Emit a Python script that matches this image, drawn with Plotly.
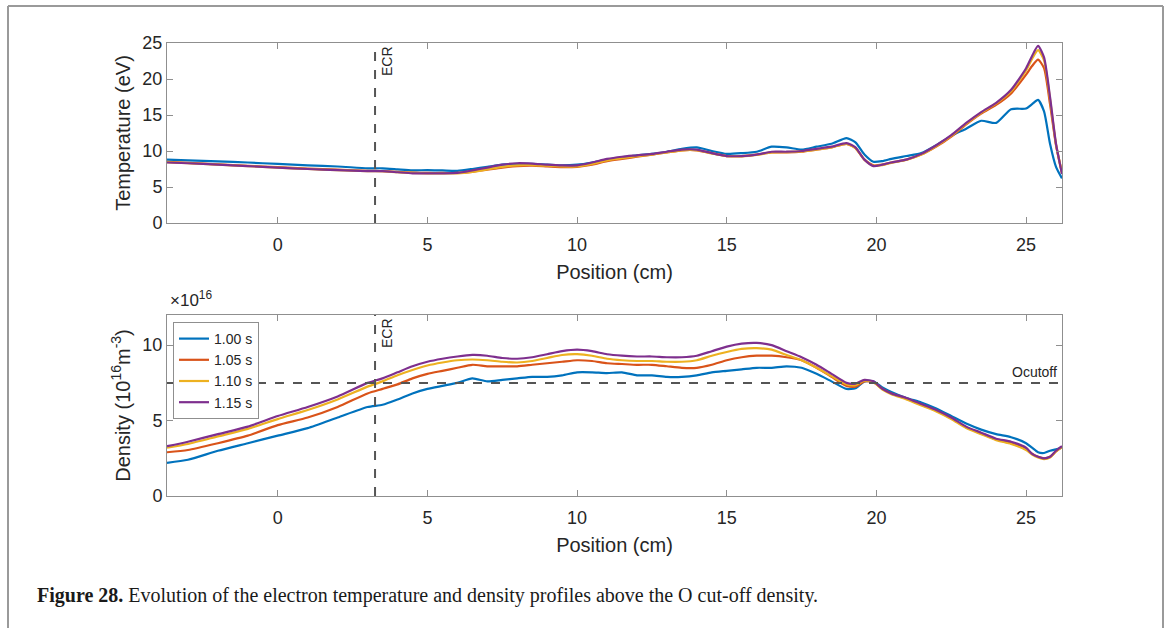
import plotly.graph_objects as go

# ---------------- data ----------------
position = [-3.7, -3.0, -2.0, -1.0, 0.0, 1.0, 2.0, 3.0, 3.5, 4.0, 4.5, 5.0, 5.5, 6.0, 6.5, 7.0, 7.5, 8.0, 8.5, 9.0,
            9.5, 10.0, 10.5, 11.0, 11.5, 12.0, 12.5, 13.0, 13.5, 14.0, 14.5, 15.0, 15.5, 16.0, 16.5, 17.0, 17.5, 18.0,
            18.5, 19.0, 19.3, 19.6, 19.9, 20.2, 20.5, 21.0, 21.5, 22.0, 22.5, 23.0, 23.5, 24.0, 24.5, 25.0, 25.2, 25.4,
            25.6, 25.8, 26.0, 26.2]

series_names = ["1.00 s", "1.05 s", "1.10 s", "1.15 s"]
series_colors = ["#0072BD", "#D95319", "#EDB120", "#7E2F8E"]

temp_100 = [8.8, 8.7, 8.55, 8.4, 8.2, 8.0, 7.85, 7.6, 7.6, 7.45, 7.3, 7.35, 7.3, 7.25, 7.5, 7.8, 8.1, 8.2, 8.2, 8.1,
            8.0, 8.1, 8.4, 8.8, 9.1, 9.4, 9.6, 9.9, 10.3, 10.5, 10.0, 9.6, 9.7, 9.9, 10.6, 10.5, 10.2, 10.6,
            11.0, 11.8, 11.2, 9.5, 8.5, 8.6, 8.9, 9.3, 9.7, 10.8, 12.1, 13.1, 14.2, 13.9, 15.8, 15.9, 16.5, 17.1,
            15.5, 11.0, 7.8, 6.2]
temp_105 = [8.5, 8.35, 8.15, 7.95, 7.75, 7.55, 7.4, 7.25, 7.2, 7.1, 7.0, 6.95, 6.95, 6.95, 7.1, 7.4, 7.7, 7.9, 7.95, 7.85,
            7.75, 7.8, 8.1, 8.6, 8.9, 9.2, 9.5, 9.8, 10.1, 10.1, 9.7, 9.3, 9.3, 9.5, 9.8, 9.8, 9.9, 10.2,
            10.5, 11.0, 10.4, 8.8, 8.0, 8.1, 8.4, 8.8, 9.5, 10.6, 12.0, 13.7, 15.2, 16.4, 18.0, 20.6, 21.8, 22.7,
            21.5, 16.5, 10.8, 7.0]
temp_110 = [8.45, 8.3, 8.1, 7.9, 7.7, 7.5, 7.35, 7.2, 7.2, 7.05, 6.95, 6.9, 6.9, 6.9, 7.1, 7.45, 7.8, 8.0, 8.05, 7.95,
            7.85, 7.85, 8.2, 8.7, 9.0, 9.3, 9.5, 9.8, 10.1, 10.1, 9.65, 9.3, 9.25, 9.45, 9.8, 9.85, 9.95, 10.2,
            10.5, 11.0, 10.4, 8.8, 7.95, 8.05, 8.35, 8.75, 9.5, 10.7, 12.1, 13.8, 15.3, 16.6, 18.3, 21.2, 22.8, 24.0,
            22.6, 17.2, 10.9, 6.9]
temp_115 = [8.4, 8.3, 8.1, 7.9, 7.7, 7.5, 7.35, 7.2, 7.2, 7.05, 6.9, 6.9, 6.9, 6.95, 7.3, 7.7, 8.1, 8.3, 8.25, 8.1,
            8.0, 8.0, 8.4, 8.9, 9.2, 9.4, 9.6, 9.9, 10.2, 10.2, 9.7, 9.3, 9.3, 9.5, 9.9, 9.9, 10.0, 10.3,
            10.6, 11.1, 10.5, 8.8, 7.9, 8.1, 8.4, 8.8, 9.6, 10.8, 12.2, 13.9, 15.4, 16.7, 18.5, 21.5, 23.2, 24.6,
            23.0, 17.5, 11.0, 6.8]

# density in units of 1e16 m^-3
dens_100 = [2.2, 2.4, 3.0, 3.5, 4.0, 4.5, 5.2, 5.9, 6.05, 6.4, 6.8, 7.1, 7.3, 7.5, 7.8, 7.6, 7.7, 7.8, 7.9, 7.9,
            8.0, 8.2, 8.2, 8.15, 8.2, 8.0, 8.0, 7.9, 7.9, 8.0, 8.2, 8.3, 8.4, 8.5, 8.5, 8.6, 8.5, 8.1,
            7.6, 7.1, 7.15, 7.6, 7.6, 7.2, 6.9, 6.5, 6.2, 5.8, 5.3, 4.8, 4.4, 4.1, 3.9, 3.5, 3.2, 2.9,
            2.85, 3.0, 3.1, 3.2]
dens_105 = [2.9, 3.05, 3.5, 4.0, 4.7, 5.2, 5.9, 6.8, 7.1, 7.4, 7.8, 8.1, 8.3, 8.5, 8.7, 8.6, 8.6, 8.6, 8.7, 8.8,
            8.9, 9.0, 8.95, 8.8, 8.75, 8.7, 8.7, 8.6, 8.5, 8.5, 8.7, 9.0, 9.2, 9.3, 9.3, 9.2, 9.0, 8.5,
            7.9, 7.3, 7.25, 7.6, 7.55, 7.1, 6.8, 6.45, 6.05, 5.65, 5.15, 4.55, 4.15, 3.75, 3.5, 3.1, 2.8, 2.6,
            2.5, 2.6, 2.95, 3.25]
dens_110 = [3.2, 3.45, 3.95, 4.45, 5.1, 5.7, 6.4, 7.25, 7.6, 8.0, 8.35, 8.65, 8.85, 9.0, 9.05, 9.0, 8.9, 8.85, 8.95, 9.15,
            9.35, 9.4, 9.3, 9.1, 9.0, 8.95, 8.95, 8.9, 8.9, 9.0, 9.3, 9.55, 9.75, 9.8, 9.7, 9.35, 9.0, 8.5,
            7.95, 7.4, 7.35, 7.65, 7.55, 7.05, 6.75, 6.4, 6.0, 5.6, 5.1, 4.5, 4.1, 3.7, 3.45, 3.05, 2.75, 2.55,
            2.45, 2.55, 2.95, 3.25]
dens_115 = [3.3, 3.6, 4.1, 4.6, 5.3, 5.9, 6.6, 7.5, 7.8, 8.2, 8.6, 8.9, 9.1, 9.25, 9.35, 9.3, 9.15, 9.1, 9.2, 9.4,
            9.6, 9.7, 9.6, 9.4, 9.3, 9.25, 9.25, 9.2, 9.2, 9.3, 9.6, 9.9, 10.1, 10.15, 10.0, 9.6, 9.2, 8.7,
            8.1, 7.5, 7.45, 7.7, 7.6, 7.1, 6.8, 6.5, 6.1, 5.7, 5.2, 4.6, 4.2, 3.8, 3.6, 3.2, 2.8, 2.6,
            2.5, 2.6, 3.0, 3.3]

temperatures = [temp_100, temp_105, temp_110, temp_115]
densities = [dens_100, dens_105, dens_110, dens_115]

ecr_position = 3.25
o_cutoff = 7.5

x_range = [-3.7, 26.2]
x_ticks = [0, 5, 10, 15, 20, 25]
temp_ticks = [0, 5, 10, 15, 20, 25]
dens_ticks = [0, 5, 10]

# ---------------- figure ----------------
W, H = 1170, 628
fig = go.Figure()

for name, col, t in zip(series_names, series_colors, temperatures):
    fig.add_trace(go.Scatter(x=position, y=t, mode="lines", name=name, showlegend=False,
                             line=dict(color=col, width=2.2, shape="spline", smoothing=0.6),
                             xaxis="x", yaxis="y"))
for name, col, d in zip(series_names, series_colors, densities):
    fig.add_trace(go.Scatter(x=position, y=d, mode="lines", name=name, showlegend=True,
                             line=dict(color=col, width=2.2, shape="spline", smoothing=0.6),
                             xaxis="x2", yaxis="y2"))

def px_x(p):
    return p / W

def px_y(p):
    return 1 - p / H

axis_col = "#8f8f8f"
tick_font = dict(family="Liberation Sans, Arial, sans-serif", size=18, color="#262626")
title_font = dict(family="Liberation Sans, Arial, sans-serif", size=20, color="#262626")

common_x = dict(range=x_range, tickvals=x_ticks, showgrid=False, zeroline=False, showline=True,
                linecolor=axis_col, linewidth=1, mirror="ticks", ticks="inside", ticklen=6,
                tickcolor=axis_col, tickfont=tick_font, domain=[px_x(167), px_x(1062)], automargin=False,
                ticklabelstandoff=5,
                title=dict(text="Position (cm)", font=title_font, standoff=11))
common_y = dict(showgrid=False, zeroline=False, showline=True, linecolor=axis_col, linewidth=1,
                mirror="ticks", ticks="inside", ticklen=6, tickcolor=axis_col, tickfont=tick_font,
                automargin=False)

fig.update_layout(
    width=W, height=H, margin=dict(l=0, r=0, t=0, b=0, autoexpand=False),
    paper_bgcolor="white", plot_bgcolor="white",
    xaxis=dict(common_x, anchor="y"),
    yaxis=dict(common_y, range=[0, 25], tickvals=temp_ticks, domain=[px_y(223), px_y(43)], anchor="x",
               title=dict(text="Temperature (eV)", font=title_font, standoff=6)),
    xaxis2=dict(common_x, anchor="y2"),
    yaxis2=dict(common_y, range=[0, 12], tickvals=dens_ticks, domain=[px_y(496), px_y(315)], anchor="x2",
                title=dict(text="Density (10<sup>16</sup>m<sup>-3</sup>)", font=title_font, standoff=6)),
    legend=dict(x=px_x(173), y=px_y(322), xanchor="left", yanchor="top",
                bgcolor="white", bordercolor="#8f8f8f", borderwidth=1,
                font=dict(family="Liberation Sans, Arial, sans-serif", size=14, color="#262626"),
                tracegroupgap=0, itemwidth=30),
)

dash_line = dict(color="#555555", width=2, dash="dash")
# ECR lines
fig.add_shape(type="line", xref="x", yref="y", x0=ecr_position, x1=ecr_position, y0=0, y1=25, line=dash_line)
fig.add_shape(type="line", xref="x2", yref="y2", x0=ecr_position, x1=ecr_position, y0=0, y1=12, line=dash_line)
# O cut-off line
fig.add_shape(type="line", xref="x2", yref="y2", x0=x_range[0], x1=x_range[1], y0=o_cutoff, y1=o_cutoff,
              line=dash_line)

small_font = dict(family="Liberation Sans, Arial, sans-serif", size=14, color="#262626")
fig.add_annotation(xref="x", yref="y", x=ecr_position, y=25, text="ECR", textangle=-90, showarrow=False,
                   xanchor="left", yanchor="top", xshift=2, yshift=-1, font=small_font)
fig.add_annotation(xref="x2", yref="y2", x=ecr_position, y=12, text="ECR", textangle=-90, showarrow=False,
                   xanchor="left", yanchor="top", xshift=2, yshift=-1, font=small_font)
fig.add_annotation(xref="x2", yref="y2", x=x_range[1], y=o_cutoff, text="Ocutoff", showarrow=False,
                   xanchor="right", yanchor="bottom", xshift=-3, yshift=1, font=small_font)

# exponent label
fig.add_annotation(xref="paper", yref="paper", x=px_x(168), y=px_y(312), text="×10<sup>16</sup>",
                   showarrow=False, xanchor="left", yanchor="bottom",
                   font=dict(family="Liberation Sans, Arial, sans-serif", size=17, color="#262626"))

# caption
fig.add_annotation(xref="paper", yref="paper", x=px_x(35), y=px_y(595),
                   text="<b>Figure 28.</b> Evolution of the electron temperature and density profiles above the O cut-off density.",
                   showarrow=False, xanchor="left", yanchor="middle",
                   font=dict(family="Liberation Serif, Times New Roman, serif", size=20, color="#1a1a1a"))

# outer frame
fig.add_shape(type="line", xref="paper", yref="paper", x0=px_x(8), x1=px_x(1163), y0=px_y(6), y1=px_y(6),
              line=dict(color="#9a9a9a", width=2))
fig.add_shape(type="line", xref="paper", yref="paper", x0=px_x(8), x1=px_x(8), y0=px_y(6), y1=-0.02,
              line=dict(color="#9a9a9a", width=2))
fig.add_shape(type="line", xref="paper", yref="paper", x0=px_x(1163), x1=px_x(1163), y0=px_y(6), y1=-0.02,
              line=dict(color="#9a9a9a", width=2))

fig.write_html("out.html")
